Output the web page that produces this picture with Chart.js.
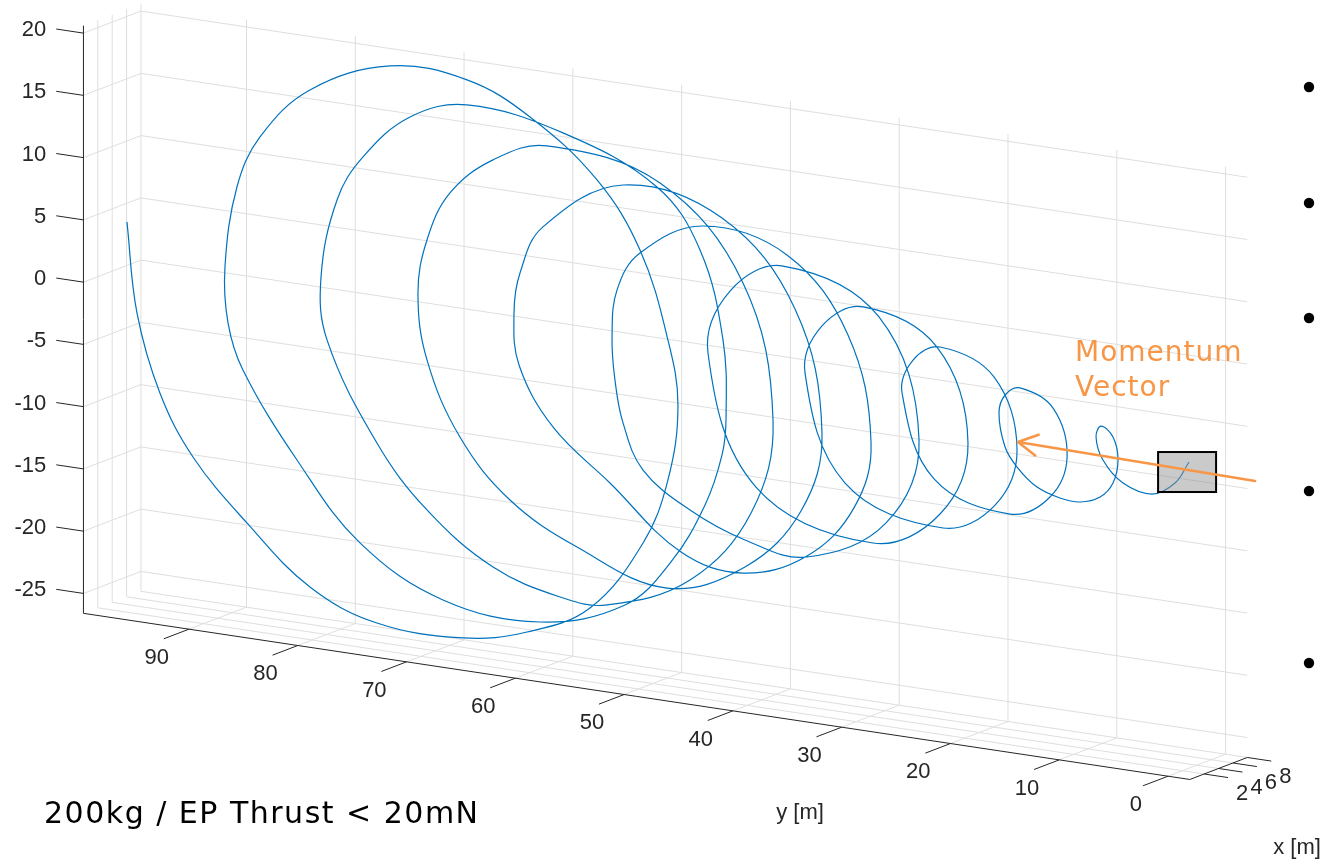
<!DOCTYPE html>
<html lang="en">
<head>
<meta charset="UTF-8">
<title>Spiral trajectory, 200kg / EP thrust</title>
<style>
  body { margin: 0; background: #fff; }
  canvas { display: block; }
</style>
</head>
<body>
<canvas id="trajChart" width="1326" height="861"></canvas>
<script src="https://cdn.jsdelivr.net/npm/chart.js@4"></script>
<script>
// trajectory, y [m] and z [m] (loops lie in the y-z plane, x taken as 0)
const pathY = [95.70, 94.78, 92.67, 89.63, 84.67, 78.88, 72.72, 64.81, 58.93, 53.14, 48.26, 45.97, 45.05, 45.97, 48.54, 52.49, 58.65, 64.44, 71.52, 78.88,
  83.47, 85.59, 86.69, 86.41, 85.04, 80.07, 74.28, 66.65, 57.73, 49.92, 45.69, 42.56, 41.00, 40.63, 40.91, 43.02, 46.98, 55.62, 64.44, 69.68,
  74.00, 76.39, 77.86, 77.31, 72.72, 68.12, 62.05, 55.89, 51.57, 43.94, 38.33, 36.31, 39.07, 46.70, 57.09, 62.05, 66.01, 68.12, 68.95, 68.12,
  65.09, 60.49, 54.33, 46.06, 38.89, 33.74, 31.81, 34.29, 41.00, 50.10, 57.46, 59.57, 60.12, 59.66, 56.54, 51.30, 44.77, 39.07, 33.19, 28.87, 27.30,
  29.42, 35.03, 42.75, 48.54, 50.65, 51.11, 50.84, 50.10, 48.26, 43.94, 38.89, 33.19, 25.92, 22.89, 26.57, 35.39, 40.27, 42.29, 37.88, 27.12, 20.96, 18.39, 21.24, 28.04, 31.81,
  33.37, 29.69, 20.68, 15.90, 13.88, 16.00, 20.96, 23.44, 24.45, 21.51, 14.52, 10.85, 9.28, 10.57, 13.61, 14.98, 15.54, 14.98, 13.88, 12.04,
  9.93, 8.09, 6.25, 5.06, 4.60, 5.06, 6.16, 6.62, 5.98, 4.14, 1.47, -0.64, -1.93];
const pathZ = [5.36, -1.83, -7.98, -12.72, -17.37, -21.75, -23.84, -24.00, -22.75, -20.06, -14.20, -8.84, -2.70, 2.40, 9.29, 14.40, 18.65, 20.87, 21.06, 18.17,
  13.79, 9.49, 2.92, -1.53, -5.13, -11.71, -17.61, -21.19, -21.79, -19.40, -15.39, -10.40, -6.18, -3.16, 3.07, 10.02, 14.56, 17.77, 18.86, 17.20,
  13.43, 9.66, 3.29, -1.70, -9.38, -14.15, -17.94, -19.54, -19.61, -16.61, -10.49, -2.76, 7.89, 14.92, 16.53, 14.76, 11.58, 7.53, 3.16, -2.10,
  -7.90, -12.35, -15.32, -17.53, -14.90, -9.73, -3.20, 6.43, 12.85, 14.31, 9.98, 6.00, 2.71, -1.40, -5.97, -9.78, -14.47, -15.41, -13.27, -8.84, -3.42,
  4.98, 10.67, 11.98, 9.05, 5.81, 1.97, -1.45, -4.80, -8.34, -10.99, -12.73, -13.35, -9.66, -2.60, 6.80, 9.73, 7.08, 1.84, -8.35, -11.43, -8.29, -2.25, 5.08, 7.41, 5.39,
  1.41, -6.95, -9.38, -6.91, -2.22, 3.37, 5.12, 3.75, 0.97, -5.55, -7.45, -5.60, -2.18, 1.58, 2.80, 2.05, 0.53, -2.13, -3.59, -4.96,
  -5.56, -5.64, -5.00, -3.72, -1.81, -0.02, 0.71, -0.22, -1.99, -3.60, -4.13, -2.97, -1.11];

// axes
const xLim = [0, 8];
const yLim = [-2, 99.7];
const zLim = [-26.6, 20.6];
const xTicks = [2, 4, 6, 8];
const yTicks = [0, 10, 20, 30, 40, 50, 60, 70, 80, 90];
const zTicks = [-25, -20, -15, -10, -5, 0, 5, 10, 15, 20];

// annotations (data coordinates)
const arrowY = [-8.0, 13.8];
const arrowZ = [-1.84, -1.57];
const boxY = -1.75;
const boxZ = -1.94;

// fixed 3D view: horizontal value in metres of y, vertical in metres of z
const view = { xToH: -0.661, xToV: 0.2209, yToV: 0.1312 };
function project(x, y, z) {
  return { x: y + view.xToH * x, y: z + view.yToV * y + view.xToV * x };
}

const gridColor = '#dedede';
const axisColor = '#262626';

function seg(a, b, color, order) {
  return {
    data: [project(a[0], a[1], a[2]), project(b[0], b[1], b[2])],
    borderColor: color, borderWidth: 1,
    pointRadius: 0, tension: 0, order: order
  };
}

const datasets = [];
const [x0, x1] = xLim, [y0, y1] = yLim, [z0, z1] = zLim;

// back wall (x = max), left wall (y = max), floor (z = min)
zTicks.forEach(z => {
  datasets.push(seg([x1, y0, z], [x1, y1, z], gridColor, 10));
  datasets.push(seg([x0, y1, z], [x1, y1, z], gridColor, 10));
});
yTicks.forEach(y => {
  datasets.push(seg([x1, y, z0], [x1, y, z1], gridColor, 10));
  datasets.push(seg([x0, y, z0], [x1, y, z0], gridColor, 10));
});
xTicks.forEach(x => {
  datasets.push(seg([x, y1, z0], [x, y1, z1], gridColor, 10));
  datasets.push(seg([x, y0, z0], [x, y1, z0], gridColor, 10));
});

// axis lines and tick marks
datasets.push(seg([x0, y1, z0], [x0, y1, z1], axisColor, 5));
datasets.push(seg([x0, y0, z0], [x0, y1, z0], axisColor, 5));
datasets.push(seg([x0, y0, z0], [x1, y0, z0], axisColor, 5));
zTicks.forEach(z => datasets.push(seg([x0, y1, z], [x0, y1 + 2.5, z], axisColor, 5)));
yTicks.forEach(y => datasets.push(seg([x0, y, z0], [x0 - 3.5, y, z0], axisColor, 5)));
xTicks.forEach(x => datasets.push(seg([x, y0, z0], [x, y0 - 2.2, z0], axisColor, 5)));

// the trajectory
datasets.push({
  data: pathY.map((y, i) => project(0, y, pathZ[i])),
  borderColor: '#0072BD', borderWidth: 1.2,
  pointRadius: 0, tension: 0.38, order: 2
});

const orange = '#F79646';

function toPixel(chart, x, y, z) {
  const p = project(x, y, z);
  return [chart.scales.x.getPixelForValue(p.x), chart.scales.y.getPixelForValue(p.y)];
}

const overlay = {
  id: 'overlay',
  afterDatasetsDraw(chart) {
    const ctx = chart.ctx;
    ctx.save();
    // spacecraft box
    const [bx, by] = toPixel(chart, 0, boxY, boxZ);
    ctx.fillStyle = 'rgba(150,150,150,0.5)';
    ctx.fillRect(bx - 29, by - 20, 58, 40);
    ctx.strokeStyle = '#000';
    ctx.lineWidth = 2;
    ctx.strokeRect(bx - 29, by - 20, 58, 40);
    // momentum arrow
    const [tx, ty] = toPixel(chart, 0, arrowY[0], arrowZ[0]);
    const [hx, hy] = toPixel(chart, 0, arrowY[1], arrowZ[1]);
    ctx.strokeStyle = orange;
    ctx.lineWidth = 2.5;
    ctx.lineCap = 'round';
    ctx.beginPath();
    ctx.moveTo(tx, ty);
    ctx.lineTo(hx, hy);
    const ang = Math.atan2(ty - hy, tx - hx);
    for (const s of [-0.5, 0.5]) {
      ctx.moveTo(hx, hy);
      ctx.lineTo(hx + 22 * Math.cos(ang + s), hy + 22 * Math.sin(ang + s));
    }
    ctx.stroke();
    ctx.restore();
  },
  afterDraw(chart) {
    const ctx = chart.ctx;
    ctx.save();
    ctx.fillStyle = axisColor;
    ctx.font = '22px "Liberation Sans", Arial, sans-serif';
    ctx.textBaseline = 'middle';
    ctx.textAlign = 'right';
    zTicks.forEach(z => {
      const [ex, ey] = toPixel(chart, x0, y1 + 2.5, z);
      ctx.fillText(String(z), ex - 10, ey + 1);
    });
    ctx.textAlign = 'center';
    yTicks.forEach(y => {
      const [ex, ey] = toPixel(chart, x0 - 3.5, y, z0);
      ctx.fillText(String(y), ex - 7, ey + 19);
    });
    xTicks.forEach(x => {
      const [ex, ey] = toPixel(chart, x, y0 - 2.2, z0);
      ctx.fillText(String(x), ex + 14, ey + 16);
    });
    ctx.fillText('y [m]', 800, 813);
    ctx.fillText('x [m]', 1297, 848);

    // slide annotations
    ctx.textAlign = 'left';
    ctx.textBaseline = 'alphabetic';
    ctx.fillStyle = orange;
    ctx.font = '28px "DejaVu Sans", Verdana, sans-serif';
    ctx.letterSpacing = '1px';
    ctx.fillText('Momentum', 1075, 361);
    ctx.fillText('Vector', 1075, 396);
    ctx.fillStyle = '#000';
    ctx.font = '30px "DejaVu Sans", Verdana, sans-serif';
    ctx.letterSpacing = '1.5px';
    ctx.fillText('200kg / EP Thrust < 20mN', 44, 823);
    ctx.letterSpacing = '0px';

    // bullets of the cut-off slide text
    [87, 203, 318, 491, 663].forEach(yy => {
      ctx.beginPath();
      ctx.arc(1309, yy, 5.2, 0, Math.PI * 2);
      ctx.fill();
    });
    ctx.restore();
  }
};

new Chart(document.getElementById('trajChart'), {
  type: 'line',
  data: { datasets: datasets },
  options: {
    responsive: false,
    animation: false,
    devicePixelRatio: 1,
    layout: { padding: 0 },
    events: [],
    plugins: { legend: { display: false }, tooltip: { enabled: false } },
    scales: {
      x: { type: 'linear', reverse: true, min: -14.52, max: 107.37, bounds: 'data', display: false },
      y: { type: 'linear', min: -33.41, max: 35.74, bounds: 'data', display: false }
    }
  },
  plugins: [overlay]
});
</script>
</body>
</html>
